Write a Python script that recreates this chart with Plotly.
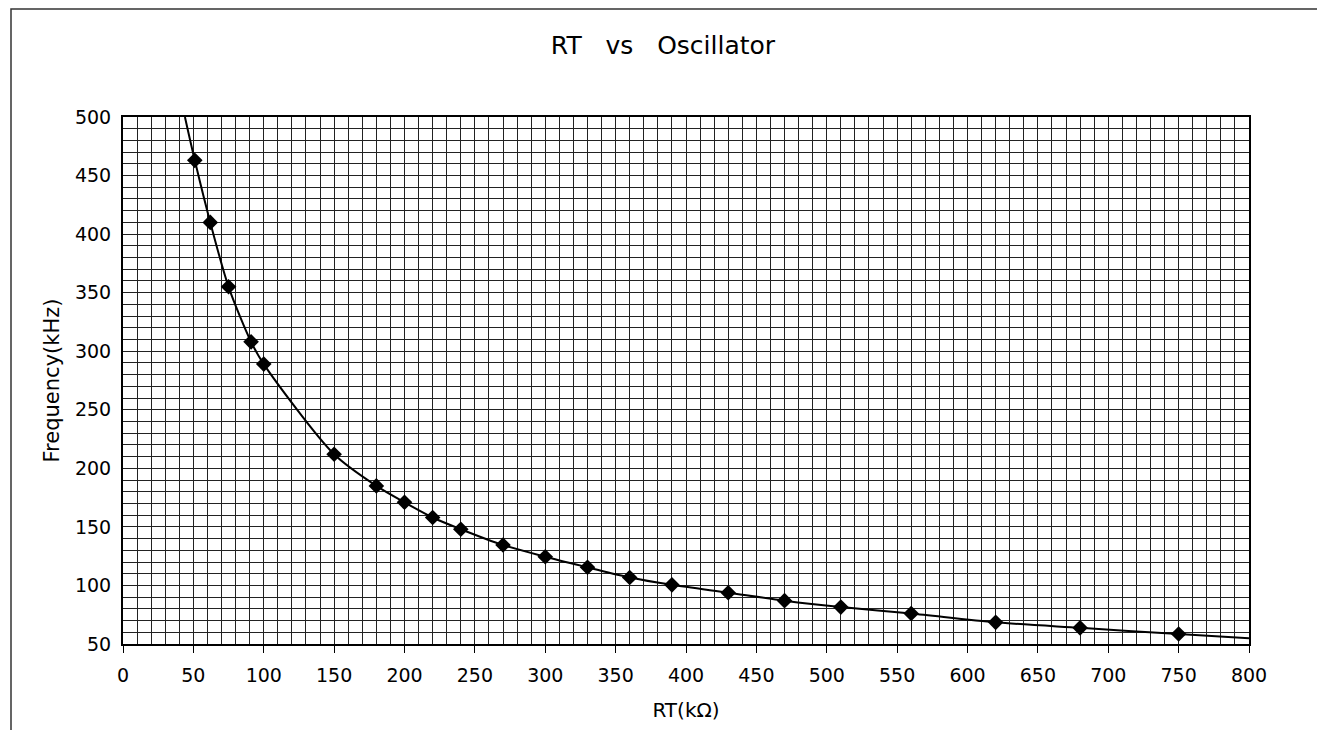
import plotly.graph_objects as go

# Data
rt_kohm = [51, 62, 75, 91, 100, 150, 180, 200, 220, 240, 270, 300, 330, 360,
           390, 430, 470, 510, 560, 620, 680, 750]
freq_khz = [463, 410, 355, 308, 289, 212, 185, 171, 158, 148, 134.5, 124.5, 115.5,
            106.8, 100.5, 93.8, 87, 81.5, 76, 68.5, 63.8, 58.5]
# Trend curve extension ends
trend_start = (44, 500)
trend_end = (800, 55)

x_ticks = list(range(0, 801, 50))
y_ticks = list(range(50, 501, 50))

curve_x = [trend_start[0]] + rt_kohm + [trend_end[0]]
curve_y = [trend_start[1]] + freq_khz + [trend_end[1]]

fig = go.Figure()
fig.add_trace(go.Scatter(
    x=curve_x, y=curve_y, mode="lines",
    line=dict(color="black", width=2, shape="spline", smoothing=0.8),
    hoverinfo="skip", showlegend=False,
))
fig.add_trace(go.Scatter(
    x=rt_kohm, y=freq_khz, mode="markers",
    marker=dict(symbol="diamond", size=12, color="black"),
    showlegend=False,
))

# page body has an 8px margin; compensate
OFF = 8
W, H = 1325 - OFF, 738 - 2 * OFF
L, T = 123 - OFF, 117 - OFF
pw, ph = 1126, 527
R = W - L - pw
B = H - T - ph

def px(xp):
    return (xp - OFF - L) / pw

def py(yp):
    return (T + ph - (yp - OFF)) / ph

font = "DejaVu Sans, Liberation Sans, Arial, sans-serif"
grid_col = "#222222"

fig.update_layout(
    width=W, height=H,
    margin=dict(l=L, r=R, t=T, b=B),
    paper_bgcolor="white", plot_bgcolor="white",
    font=dict(family=font, color="black", size=19),
    title=dict(text="RT\u00a0\u00a0\u00a0vs\u00a0\u00a0\u00a0Oscillator",
               x=(663 - OFF) / W, xanchor="center", y=1 - (45 - OFF) / H, yanchor="middle",
               font=dict(size=25, family=font, color="black")),
    xaxis=dict(
        range=[0, 800], tickmode="array", tickvals=x_ticks,
        ticks="outside", ticklen=7, tickwidth=1, tickcolor="black",
        showgrid=True, gridcolor=grid_col, gridwidth=1,
        minor=dict(dtick=10, showgrid=True, gridcolor=grid_col, gridwidth=1),
        showline=True, linecolor="black", linewidth=2, mirror=True,
        zeroline=False, tickfont=dict(size=19), ticklabelstandoff=6,
        title=dict(text="RT(kΩ)", font=dict(size=20), standoff=18),
    ),
    yaxis=dict(
        range=[50, 500], tickmode="array", tickvals=y_ticks,
        ticks="", showgrid=True, gridcolor=grid_col, gridwidth=1,
        minor=dict(dtick=10, showgrid=True, gridcolor=grid_col, gridwidth=1),
        showline=True, linecolor="black", linewidth=2, mirror=True,
        zeroline=False, tickfont=dict(size=19), ticklabelstandoff=6,
        title=dict(text="Frequency(kHz)", font=dict(size=21), standoff=10),
    ),
    shapes=[dict(type="rect", xref="paper", yref="paper",
                 x0=px(11), x1=px(1322), y0=py(745), y1=py(9),
                 line=dict(color="#333", width=1.5), fillcolor="rgba(0,0,0,0)",
                 layer="below")],
)

fig.write_html("out.html")
